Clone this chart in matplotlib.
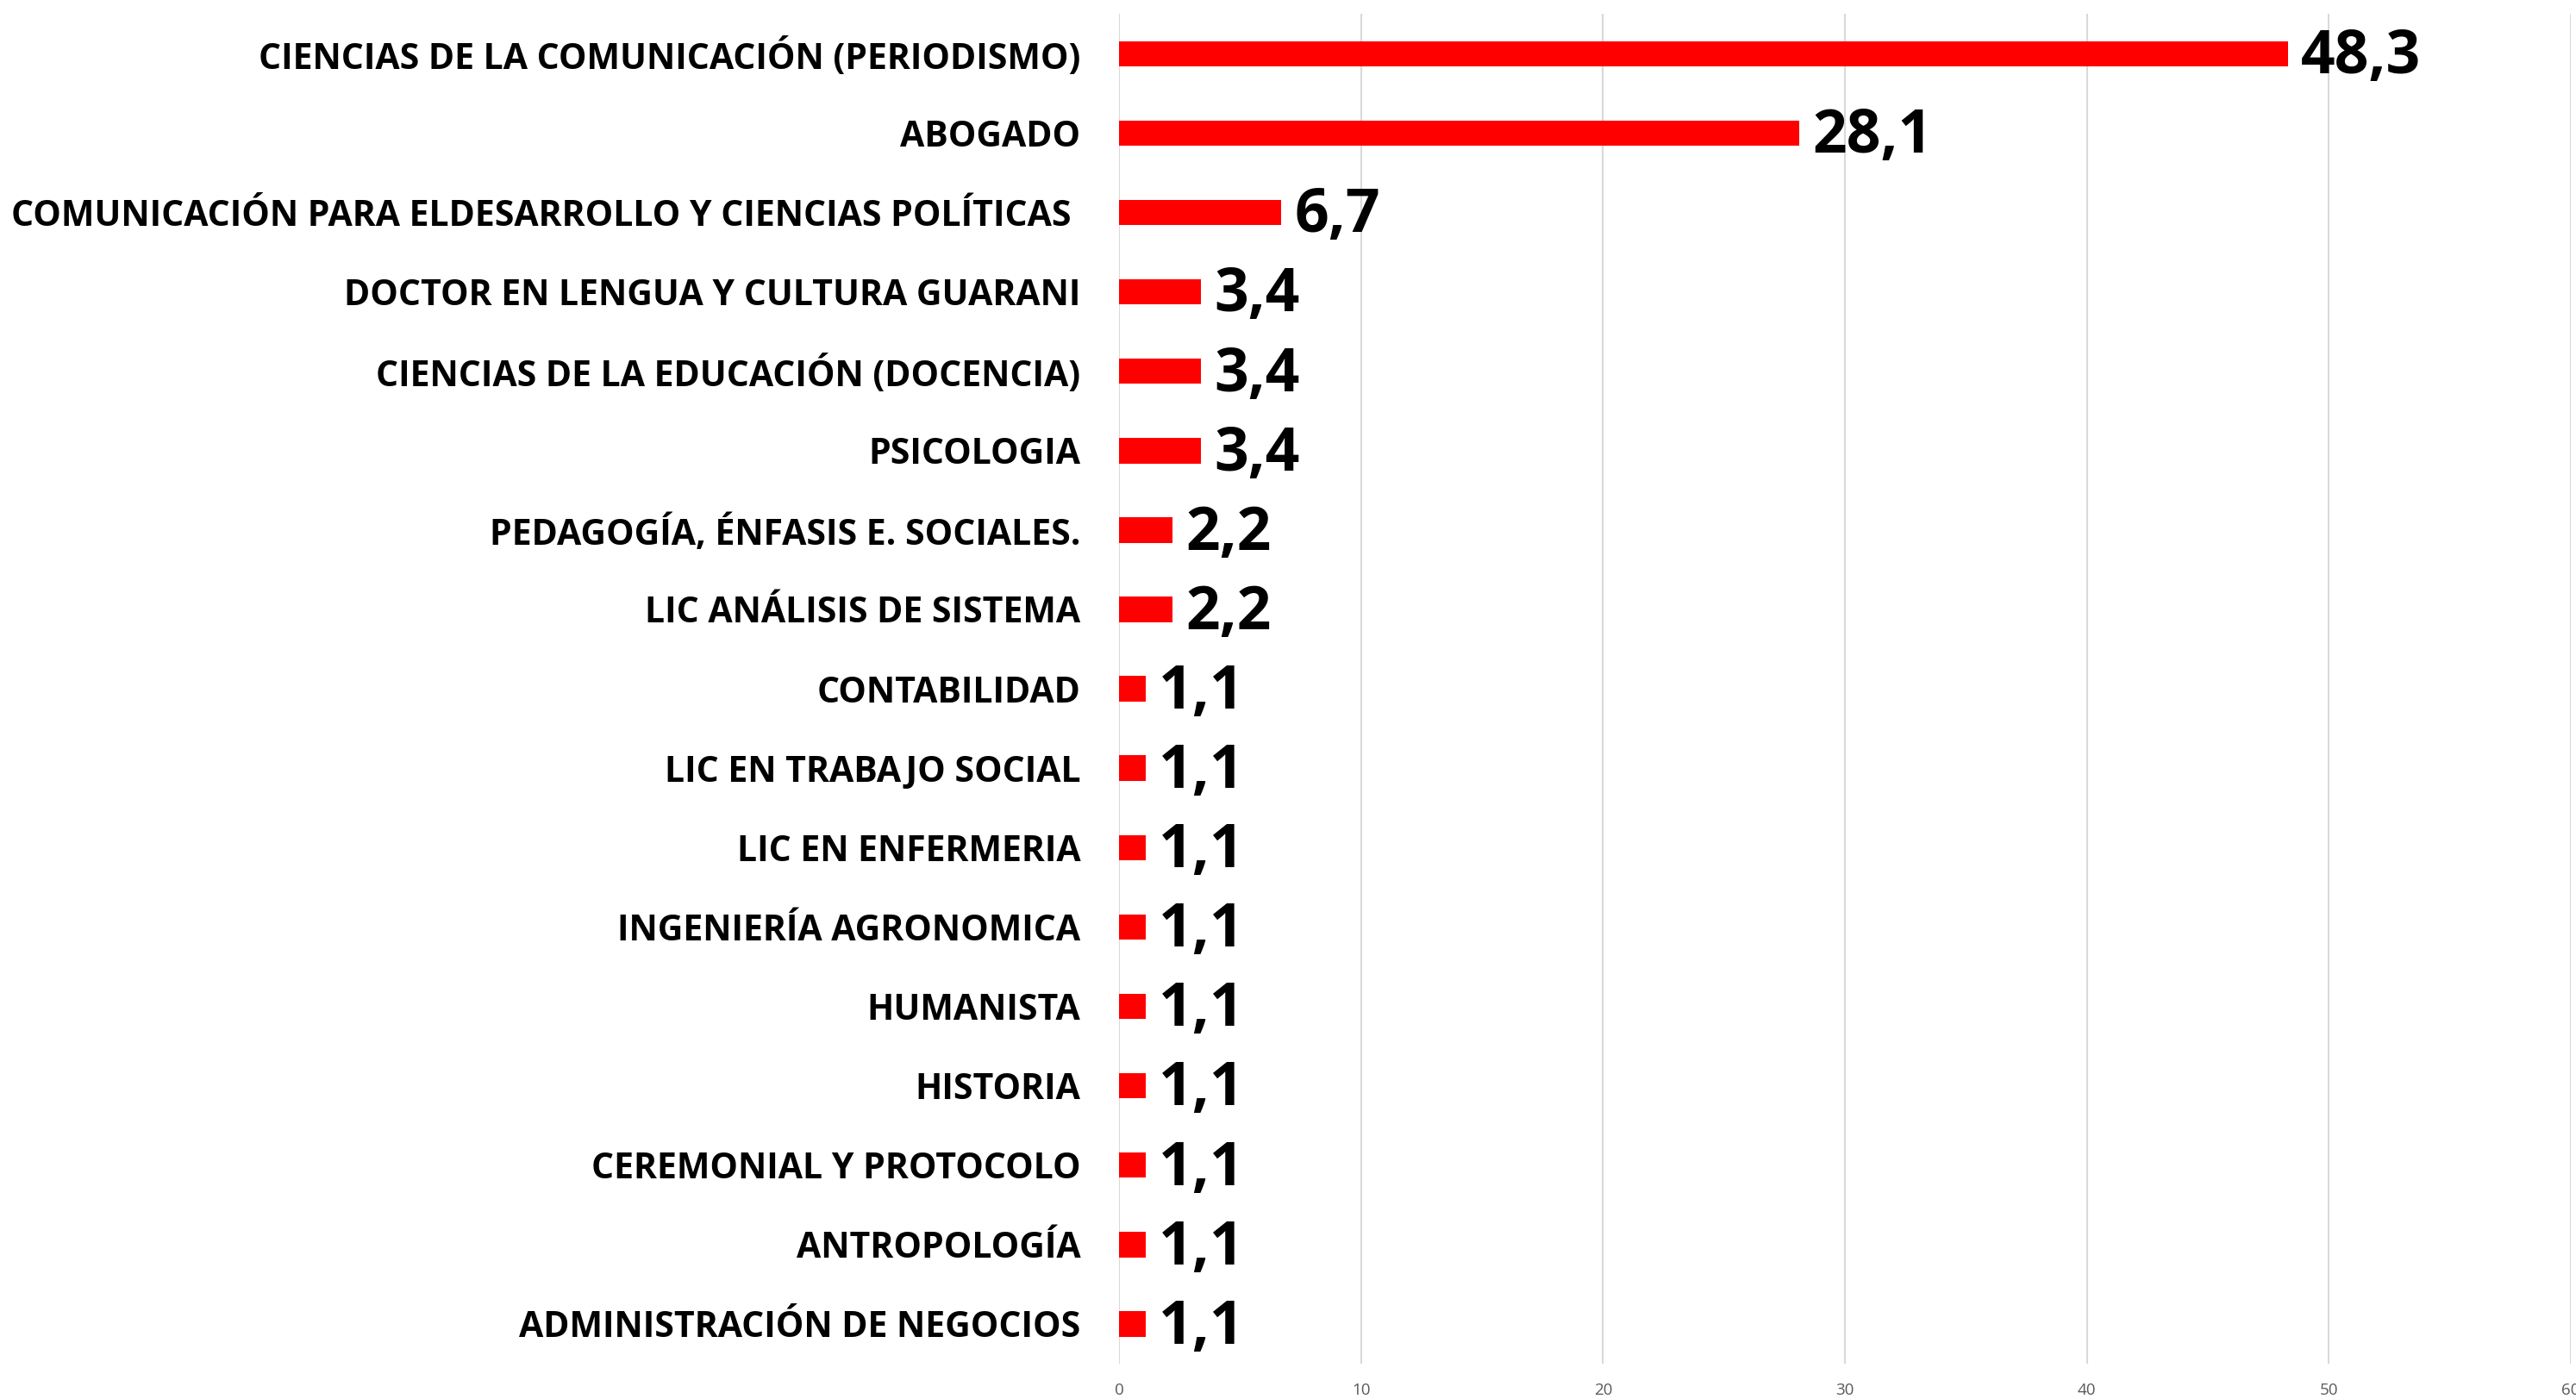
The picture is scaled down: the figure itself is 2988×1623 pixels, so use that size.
import matplotlib
matplotlib.use("Agg")
import matplotlib.pyplot as plt

categories = [
    "CIENCIAS DE LA COMUNICACIÓN (PERIODISMO)",
    "ABOGADO",
    "COMUNICACIÓN PARA ELDESARROLLO Y CIENCIAS POLÍTICAS ",
    "DOCTOR EN LENGUA Y CULTURA GUARANI",
    "CIENCIAS DE LA EDUCACIÓN (DOCENCIA)",
    "PSICOLOGIA",
    "PEDAGOGÍA, ÉNFASIS E. SOCIALES.",
    "LIC ANÁLISIS DE SISTEMA",
    "CONTABILIDAD",
    "LIC EN TRABAJO SOCIAL",
    "LIC EN ENFERMERIA",
    "INGENIERÍA AGRONOMICA",
    "HUMANISTA",
    "HISTORIA",
    "CEREMONIAL Y PROTOCOLO",
    "ANTROPOLOGÍA",
    "ADMINISTRACIÓN DE NEGOCIOS",
]
values = [48.3, 28.1, 6.7, 3.4, 3.4, 3.4, 2.2, 2.2, 1.1, 1.1, 1.1, 1.1, 1.1, 1.1, 1.1, 1.1, 1.1]
xticks = [0, 10, 20, 30, 40, 50, 60]

plt.rcParams['font.family'] = ['Open Sans', 'DejaVu Sans']

fig = plt.figure(figsize=(29.88, 16.23), dpi=100)
ax = fig.add_axes([0.4344, 0.0253, 0.9980 - 0.4344, 0.990 - 0.0253])

ypos = list(range(len(categories)))
ax.barh(ypos, values, height=0.32, color='#ff0000', zorder=3)
ax.set_ylim(len(categories) - 0.5, -0.5)
ax.set_xlim(0, 60)
ax.set_xticks(xticks)
ax.set_xticklabels([str(t) for t in xticks], fontsize=13.5, color='#595959')
ax.set_yticks(ypos)
ax.set_yticklabels(categories, fontsize=29.5, fontweight='bold', color='black')
ax.tick_params(axis='both', length=0)
ax.tick_params(axis='y', pad=32)
ax.tick_params(axis='x', pad=16)
ax.grid(axis='x', color='#d9d9d9', linewidth=1.5, zorder=0)
ax.set_axisbelow(True)
for s in ax.spines.values():
    s.set_visible(False)

for y, v in zip(ypos, values):
    ax.annotate(f"{v:.1f}".replace('.', ','), xy=(v, y), xytext=(11, -3.5),
                textcoords='offset points', va='center', ha='left',
                fontsize=50, fontweight='bold', color='black')

fig.savefig("out.png", dpi=100)
